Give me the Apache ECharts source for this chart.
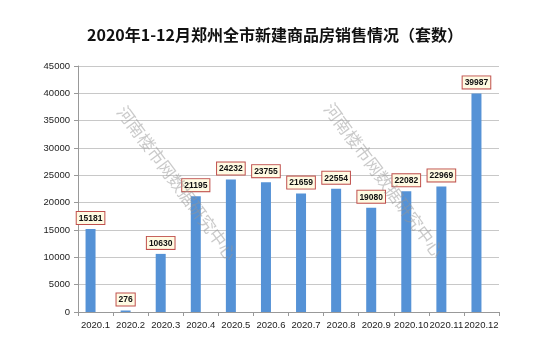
<!DOCTYPE html>
<html><head><meta charset="utf-8">
<script src="https://cdn.jsdelivr.net/npm/echarts@6/dist/echarts.min.js"></script>
<style>html,body{margin:0;padding:0;background:#fff}#c{width:550px;height:357px}</style>
</head><body><div id="c"></div>
<script>
const title = '2020年1-12月郑州全市新建商品房销售情况（套数）';
const categories = ['2020.1','2020.2','2020.3','2020.4','2020.5','2020.6','2020.7','2020.8','2020.9','2020.10','2020.11','2020.12'];
const sales = [15181, 276, 10630, 21195, 24232, 23755, 21659, 22554, 19080, 22082, 22969, 39987];
const placeholder = categories.map(() => '-');
const watermark = '河南楼市网数据研究中心';

const chart = echarts.init(document.getElementById('c'));
const wmStyle = {text: watermark, font: '17px "Noto Sans CJK SC"', fill: 'rgba(150,150,150,0.5)', textAlign: 'center', textVerticalAlign: 'middle'};
chart.setOption({
  animation: false,
  title: {text: title, left: 'center', top: 22,
    textStyle: {fontFamily: '"Noto Sans CJK SC"', fontSize: 16, fontWeight: 'bold', color: '#111'}},
  grid: {left: 78, right: 51, top: 66, bottom: 45},
  xAxis: {type: 'category', data: categories,
    axisLine: {lineStyle: {color: '#999'}},
    axisTick: {show: true, length: 4, lineStyle: {color: '#999'}},
    axisLabel: {color: '#222', fontSize: 9.5, margin: 8, interval: 0, fontFamily: '"Liberation Sans"'}},
  yAxis: {type: 'value', min: 0, max: 45000, interval: 5000,
    axisLine: {show: true, lineStyle: {color: '#999'}},
    axisTick: {show: true, length: 4, lineStyle: {color: '#999'}},
    splitLine: {lineStyle: {color: '#c8c8c8'}},
    axisLabel: {color: '#222', fontSize: 9.5, margin: 8, fontFamily: '"Liberation Sans"', formatter: v => String(v)}},
  graphic: [
    {type: 'text', x: 177, y: 183, rotation: -0.93, style: Object.assign({}, wmStyle), z: 100, silent: true},
    {type: 'text', x: 384, y: 180, rotation: -0.93, style: Object.assign({}, wmStyle), z: 100, silent: true}
  ],
  series: [
    {type: 'bar', data: sales, barWidth: 10, barGap: '0%',
     itemStyle: {color: '#5592d6'},
     label: {show: true, position: 'top', distance: 5, fontSize: 8.5, color: '#111',
       backgroundColor: '#fffbe3', borderColor: '#c0504d', borderWidth: 1, padding: [2, 2, 1, 2],
       fontFamily: '"Liberation Sans"', fontWeight: 'bold'}},
    {type: 'bar', data: placeholder, barWidth: 10}
  ]
});
</script></body></html>
